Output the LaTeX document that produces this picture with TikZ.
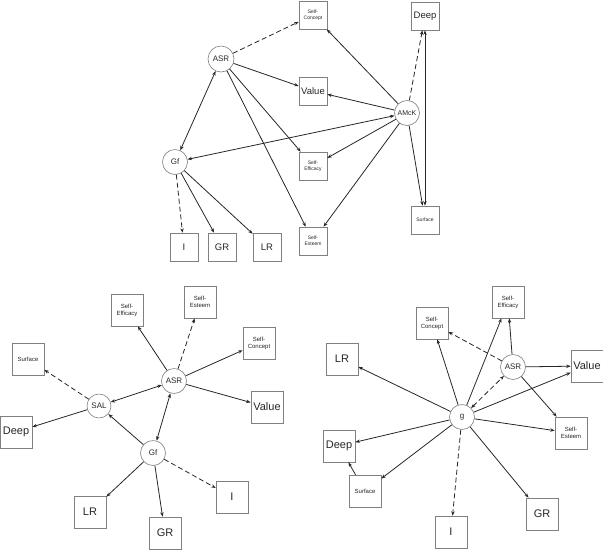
\documentclass[tikz,border=0pt]{standalone}
\usepackage{fontspec}
\setmainfont{Liberation Sans}
\usetikzlibrary{arrows.meta}
\tikzset{
  every node/.style={inner sep=0pt, text=black!85},
  bx/.style={draw=black!50, line width=0.6pt, minimum size=28pt, align=center},
  bxb/.style={draw=black!50, line width=0.6pt, minimum size=32pt, align=center},
  big/.style={font=\fontsize{9.5}{10}\selectfont},
  bigb/.style={font=\fontsize{11}{12}\selectfont},
  sm/.style={font=\fontsize{5}{5.8}\selectfont},
  smb/.style={font=\fontsize{6}{7}\selectfont},
  circ/.style={circle, draw=black!50, line width=0.6pt, minimum size=25pt, font=\fontsize{8}{9}\selectfont},
  edge/.style={draw=black!85, line width=0.8pt, -{Stealth[length=4.5pt,width=3.4pt]}},
  bedge/.style={draw=black!85, line width=0.8pt, {Stealth[length=4.5pt,width=3.4pt]}-{Stealth[length=4.5pt,width=3.4pt]}},
  dsh/.style={dash pattern=on 5pt off 3pt},
}
\begin{document}
\begin{tikzpicture}[x=1pt,y=-1pt]
\useasboundingbox (0,0) rectangle (603,550);
% ---------- top ----------
\node[bx,sm] (SCt) at (313,15) {Self-\\Concept};
\node[bx,big] (Deept) at (425,16) {Deep};
\node[circ,minimum size=26pt] (ASRt) at (221,59) {ASR};
\node[bx,big] (Valt) at (313,91) {Value};
\node[circ,font=\fontsize{7}{8}\selectfont] (AMcK) at (407,113) {AMcK};
\node[circ] (Gft) at (175,162) {Gf};
\node[bx,sm] (SEft) at (313,166) {Self-\\Efficacy};
\node[bx,sm] (Surft) at (425,220) {Surface};
\node[bx,big] (It) at (184,247) {I};
\node[bx,big] (GRt) at (222,247) {GR};
\node[bx,big] (LRt) at (267,247) {LR};
\node[bx,sm] (SEst) at (313,241) {Self-\\Esteem};

\draw[edge,dsh] (ASRt) -- (SCt);
\draw[edge] (ASRt) -- (Valt);
\draw[edge] (ASRt) -- (SEft);
\draw[edge] (ASRt) -- (SEst);
\draw[bedge] (ASRt) -- (Gft);
\draw[edge] (AMcK) -- (SCt);
\draw[edge] (AMcK) -- (Valt);
\draw[bedge] (AMcK) -- (Gft);
\draw[edge] (AMcK) -- (SEft);
\draw[edge] (AMcK) -- (SEst);
\draw[edge,dsh] (AMcK) -- (Deept);
\draw[edge] (AMcK) -- (Surft);
\draw[bedge] (Deept) -- (Surft);
\draw[edge,dsh] (Gft) -- (It);
\draw[edge] (Gft) -- (GRt);
\draw[edge] (Gft) -- (LRt);

% ---------- bottom left ----------
\node[bxb,smb] (SEfl) at (127,310) {Self-\\Efficacy};
\node[bxb,smb] (SEsl) at (200,302) {Self-\\Esteem};
\node[bxb,smb] (SCl) at (259,343) {Self-\\Concept};
\node[bxb,smb] (Surfl) at (28,359) {Surface};
\node[circ] (ASRl) at (174,381) {ASR};
\node[bxb,bigb] (Vall) at (267,407) {Value};
\node[circ,minimum size=24pt] (SAL) at (99,406) {SAL};
\node[bxb,bigb] (Deepl) at (16,432) {Deep};
\node[circ] (Gfl) at (153,453) {Gf};
\node[bxb,bigb] (Il) at (232,497) {I};
\node[bxb,bigb] (LRl) at (90,512) {LR};
\node[bxb,bigb] (GRl) at (165,533) {GR};

\draw[edge] (ASRl) -- (SEfl);
\draw[edge,dsh] (ASRl) -- (SEsl);
\draw[edge] (ASRl) -- (SCl);
\draw[edge] (ASRl) -- (Vall);
\draw[bedge] (ASRl) -- (SAL);
\draw[edge,dsh] (SAL) -- (Surfl);
\draw[edge] (SAL) -- (Deepl);
\draw[edge] (Gfl) -- (SAL);
\draw[bedge] (Gfl) -- (ASRl);
\draw[edge] (Gfl) -- (LRl);
\draw[edge] (Gfl) -- (GRl);
\draw[edge,dsh] (Gfl) -- (Il);

% ---------- bottom right ----------
\node[bxb,smb] (SEfr) at (508,302) {Self-\\Efficacy};
\node[bxb,smb] (SCr) at (432,323) {Self-\\Concept};
\node[bxb,bigb] (LRr) at (342,359) {LR};
\node[circ] (ASRr) at (513,367) {ASR};
\node[bxb,bigb] (Valr) at (587,366) {Value};
\node[circ] (g) at (462,417) {g};
\node[bxb,smb] (SEsr) at (571,433) {Self-\\Esteem};
\node[bxb,bigb] (Deepr) at (339,446) {Deep};
\node[bxb,smb] (Surfr) at (365,491) {Surface};
\node[bxb,bigb] (GRr) at (542,514) {GR};
\node[bxb,bigb] (Ir) at (451,532) {I};

\draw[edge] (g) -- (LRr);
\draw[edge] (g) -- (SCr);
\draw[edge] (g) -- (SEfr);
\draw[bedge,dsh] (g) -- (ASRr);
\draw[edge] (g) -- (Valr);
\draw[edge] (g) -- (SEsr);
\draw[edge] (g) -- (GRr);
\draw[edge,dsh] (g) -- (Ir);
\draw[edge] (g) -- (Deepr);
\draw[edge] (g) -- (Surfr);
\draw[edge] (Surfr) -- (Deepr);
\draw[edge,dsh] (ASRr) -- (SCr);
\draw[edge] (ASRr) -- (SEfr);
\draw[edge] (ASRr) -- (Valr);
\draw[edge] (ASRr) -- (SEsr);
\end{tikzpicture}
\end{document}
